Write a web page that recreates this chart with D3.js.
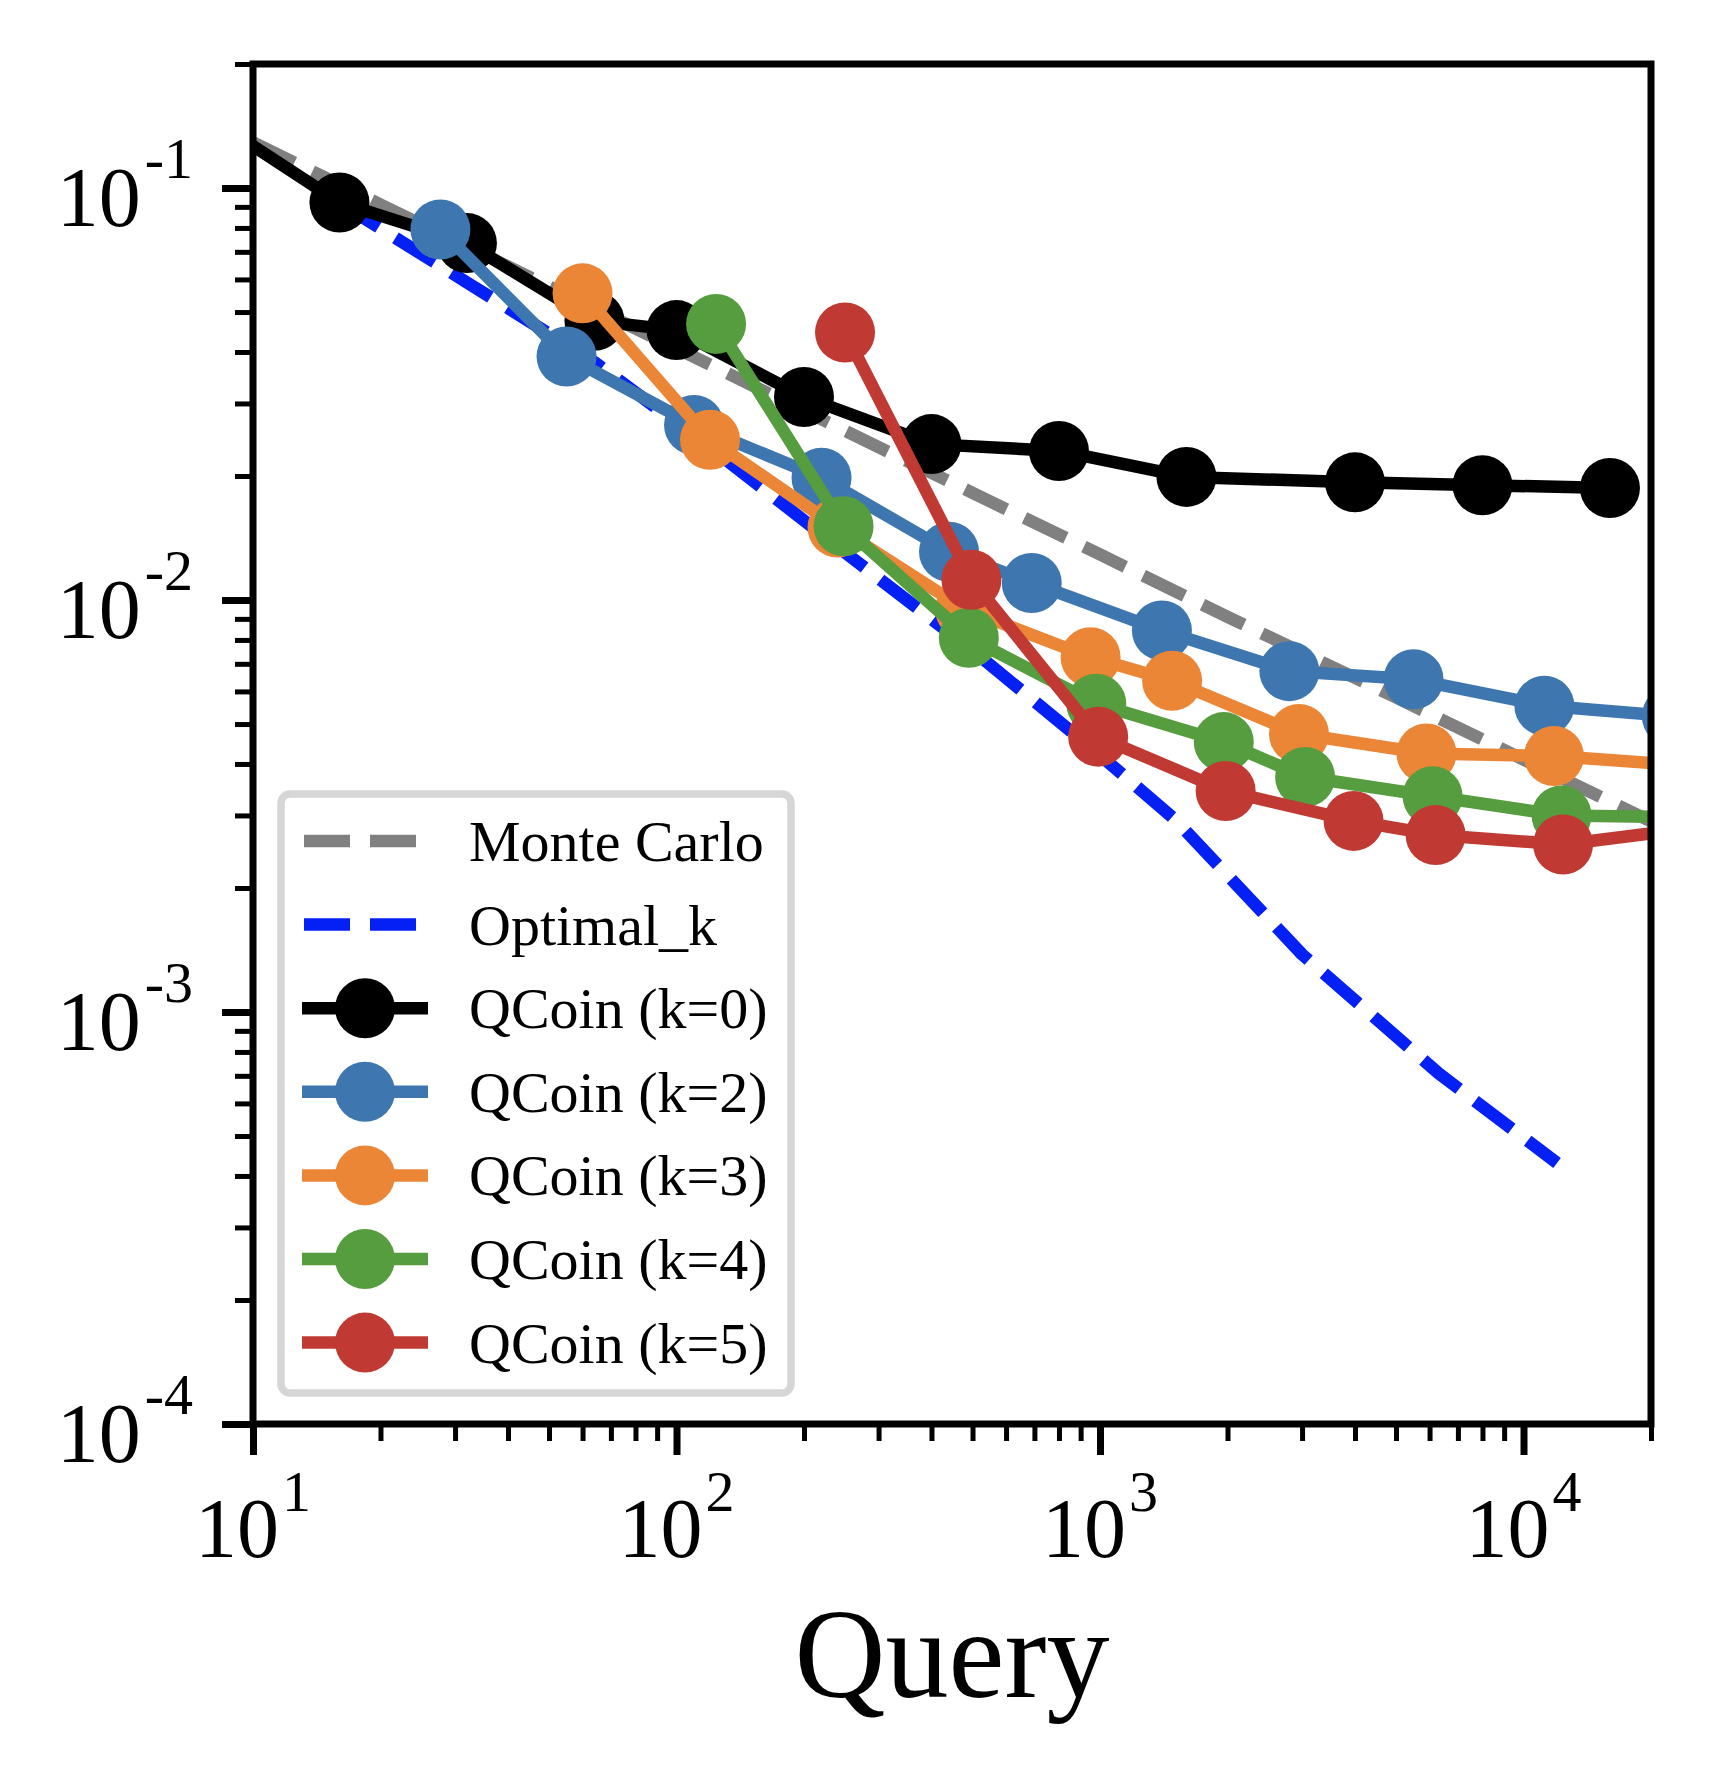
<!DOCTYPE html>
<html>
<head>
<meta charset="utf-8">
<script src="https://cdn.jsdelivr.net/npm/d3@7"></script>
<style>
  body { margin: 0; background: #fff; }
  text { font-family: "Liberation Serif", "Times New Roman", serif; fill: #000; }
</style>
</head>
<body>
<svg id="chart" width="1710" height="1783"></svg>
<script>
// values
const mcX = [10, 20, 50, 100, 200, 500, 1000, 2000, 5000, 10000, 20000];
const mcY = [0.129, 0.0912, 0.0577, 0.0408, 0.0288, 0.0182, 0.0129, 0.0091, 0.0058, 0.0041, 0.0029];

const optX = [16, 32, 64, 128, 256, 512, 1000, 1500, 3000, 6300, 12000];
const optY = [0.092, 0.059, 0.0378, 0.0223, 0.0128, 0.0074, 0.0042, 0.00294, 0.00138, 0.00071, 0.00043];

const k0X = [8, 16, 32, 64, 100, 200, 400, 800, 1600, 4000, 8000, 16000];
const k0Y = [0.147, 0.0922, 0.0735, 0.0476, 0.0452, 0.0311, 0.0239, 0.0230, 0.0199, 0.0193, 0.0190, 0.0187];

const k2X = [27.7, 55, 110, 220, 440, 690, 1400, 2800, 5500, 11200, 22400];
const k2Y = [0.0793, 0.0390, 0.0266, 0.0198, 0.0131, 0.0110, 0.00843, 0.00672, 0.00642, 0.00554, 0.00522];

const k3X = [60, 120, 240, 480, 950, 1480, 2950, 5900, 11800, 24000];
const k3Y = [0.0555, 0.0245, 0.0150, 0.0095, 0.00726, 0.00637, 0.00473, 0.00424, 0.00418, 0.00397];

const k4X = [124, 248, 490, 980, 1960, 3050, 6100, 12300, 24600];
const k4Y = [0.0468, 0.0151, 0.0081, 0.0056, 0.00452, 0.00372, 0.00334, 0.00300, 0.00297];

const k5X = [250, 497, 990, 1980, 3970, 6200, 12400, 24800];
const k5Y = [0.0446, 0.0112, 0.00466, 0.00344, 0.00291, 0.00269, 0.00255, 0.00279];

const xMajor = [10, 100, 1000, 10000];
const xMajorExp = ['1', '2', '3', '4'];
const yMajor = [1e-4, 1e-3, 1e-2, 1e-1];
const yMajorExp = ['-4', '-3', '-2', '-1'];
const legendLabels = ['Monte Carlo', 'Optimal_k', 'QCoin (k=0)', 'QCoin (k=2)', 'QCoin (k=3)', 'QCoin (k=4)', 'QCoin (k=5)'];

const margin = {left: 253, top: 64, right: 59, bottom: 359};
const width = 1710 - margin.left - margin.right;
const height = 1783 - margin.top - margin.bottom;

const svg = d3.select('#chart');
const g = svg.append('g').attr('transform', `translate(${margin.left},${margin.top})`);

const x = d3.scaleLog().domain([10, 20000]).range([0, width]);
const y = d3.scaleLog().domain([1e-4, 0.2]).range([height, 0]);

svg.append('defs').append('clipPath').attr('id', 'plot-clip')
    .append('rect').attr('width', width).attr('height', height);

const minorTicks = (lo, hi) => {
    const out = [];
    for (let d = lo; d < hi * 1.0001; d *= 10) {
        for (let m = 2; m <= 9; m++) {
            const v = m * d;
            if (v <= hi * 1.0001) out.push(v);
        }
    }
    return out;
};

// axes
const xAxisG = g.append('g').attr('transform', `translate(0,${height})`);
xAxisG.append('g')
    .call(d3.axisBottom(x).tickValues(minorTicks(10, 20000)).tickSize(17).tickFormat(''))
    .call(s => s.selectAll('line').attr('stroke-width', 5));
xAxisG.append('g')
    .call(d3.axisBottom(x).tickValues(xMajor).tickSize(31).tickFormat(''))
    .call(s => s.selectAll('line').attr('stroke-width', 7));
xAxisG.selectAll('.domain').remove();

const yAxisG = g.append('g');
yAxisG.append('g')
    .call(d3.axisLeft(y).tickValues(minorTicks(1e-4, 0.2)).tickSize(18).tickFormat(''))
    .call(s => s.selectAll('line').attr('stroke-width', 5));
yAxisG.append('g')
    .call(d3.axisLeft(y).tickValues(yMajor).tickSize(31).tickFormat(''))
    .call(s => s.selectAll('line').attr('stroke-width', 7));
yAxisG.selectAll('.domain').remove();

// tick labels as 10 with superscript
xMajor.forEach((v, i) => {
    const t = g.append('text')
        .attr('x', x(v)).attr('y', height + 133)
        .attr('text-anchor', 'middle')
        .style('font-size', '84px');
    t.append('tspan').text('10');
    t.append('tspan').attr('dy', -46).attr('dx', 3).style('font-size', '58px').text(xMajorExp[i]);
});
yMajor.forEach((v, i) => {
    const t = g.append('text')
        .attr('x', -60).attr('y', y(v) + 38)
        .attr('text-anchor', 'end')
        .style('font-size', '84px');
    t.append('tspan').text('10');
    t.append('tspan').attr('dy', -48).attr('dx', 4).style('font-size', '58px').text(yMajorExp[i]);
});

g.append('text')
    .attr('x', width / 2).attr('y', height + 273)
    .attr('text-anchor', 'middle')
    .style('font-size', '126px')
    .text('Query');

// data
const series = [
    {xs: mcX, ys: mcY, color: '#808080', dash: '46,20', marker: false},
    {xs: optX, ys: optY, color: '#0520f5', dash: '46,20', marker: false},
    {xs: k0X, ys: k0Y, color: '#000000', dash: null, marker: true},
    {xs: k2X, ys: k2Y, color: '#3e76af', dash: null, marker: true},
    {xs: k3X, ys: k3Y, color: '#ec8637', dash: null, marker: true},
    {xs: k4X, ys: k4Y, color: '#559d3e', dash: null, marker: true},
    {xs: k5X, ys: k5Y, color: '#c03a33', dash: null, marker: true}
];

const line = d3.line().x(d => x(d[0])).y(d => y(d[1]));
const plot = g.append('g').attr('clip-path', 'url(#plot-clip)');

series.forEach(s => {
    const pts = s.xs.map((v, i) => [v, s.ys[i]]);
    const sg = plot.append('g');
    sg.append('path')
        .datum(pts)
        .attr('d', line)
        .attr('fill', 'none')
        .attr('stroke', s.color)
        .attr('stroke-width', 12.5)
        .attr('stroke-linejoin', 'round')
        .attr('stroke-dasharray', s.dash);
    if (s.marker) {
        sg.selectAll('circle').data(pts).join('circle')
            .attr('cx', d => x(d[0])).attr('cy', d => y(d[1]))
            .attr('r', 30)
            .attr('fill', s.color);
    }
});

// frame
g.append('rect')
    .attr('width', width).attr('height', height)
    .attr('fill', 'none').attr('stroke', '#000').attr('stroke-width', 7);

// legend
const lg = svg.append('g').attr('transform', 'translate(281,794)');
lg.append('rect')
    .attr('width', 510).attr('height', 599)
    .attr('rx', 9)
    .attr('fill', '#fff').attr('stroke', '#d6d6d6').attr('stroke-width', 7.5);

series.forEach((s, i) => {
    const cy = 47 + i * 83.6;
    lg.append('line')
        .attr('x1', s.marker ? 21 : 23).attr('x2', s.marker ? 147 : 136)
        .attr('y1', cy).attr('y2', cy)
        .attr('stroke', s.color).attr('stroke-width', 12.5)
        .attr('stroke-dasharray', s.dash);
    if (s.marker) {
        lg.append('circle').attr('cx', 84).attr('cy', cy).attr('r', 30).attr('fill', s.color);
    }
    lg.append('text')
        .attr('x', 188).attr('y', cy + 20)
        .style('font-size', '58px')
        .text(legendLabels[i]);
});
</script>
</body>
</html>
